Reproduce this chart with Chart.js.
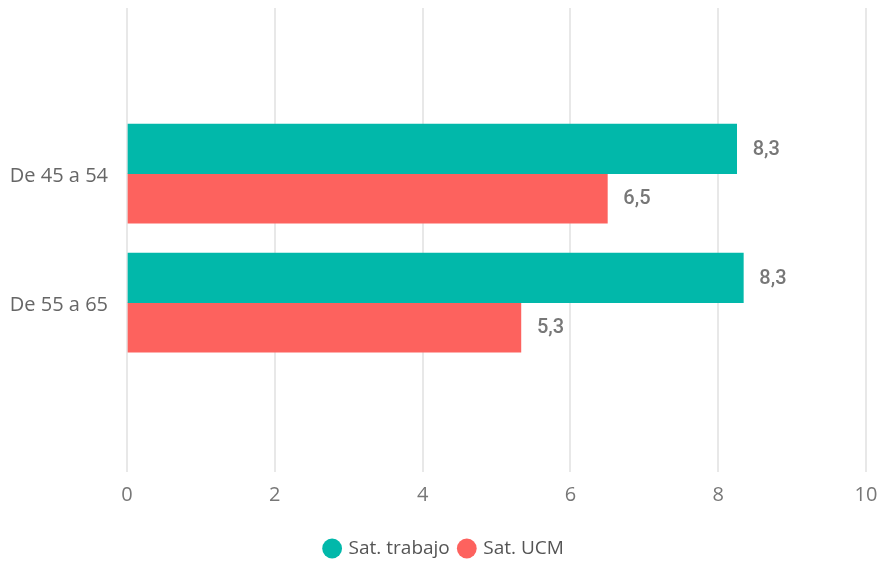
<!DOCTYPE html>
<html>
<head>
<meta charset="utf-8">
<script src="https://cdn.jsdelivr.net/npm/chart.js@4/dist/chart.umd.min.js"></script>
<style>
  html, body { margin: 0; padding: 0; background: #fff; }
  #wrap { width: 881px; height: 561px; }
</style>
</head>
<body>
<div id="wrap"><canvas id="chart" width="881" height="561"></canvas></div>
<script>
const categories = ['De 45 a 54', 'De 55 a 65'];
const seriesNames = ['Sat. trabajo', 'Sat. UCM'];
const satTrabajo = [8.25, 8.34];
const satUCM = [6.5, 5.33];
const xTicks = [0, 2, 4, 6, 8, 10];
const colors = ['#01B8AA', '#FD625E'];

const toPoints = vals => vals.map((v, i) => ({ x: v, y: i }));

// value labels to the right of each bar, Spanish decimal comma
const barLabels = {
  id: 'barLabels',
  afterDatasetsDraw(chart) {
    const ctx = chart.ctx;
    ctx.save();
    ctx.font = '500 20px Roboto';
    ctx.fillStyle = '#777';
    ctx.textAlign = 'left';
    ctx.textBaseline = 'middle';
    chart.data.datasets.forEach((ds, di) => {
      chart.getDatasetMeta(di).data.forEach((bar, i) => {
        const txt = ds.data[i].x.toFixed(1).replace('.', ',');
        ctx.fillText(txt, bar.x + 16, bar.y + 1);
      });
    });
    ctx.restore();
  }
};

new Chart(document.getElementById('chart'), {
  type: 'bar',
  data: {
    datasets: [
      { label: seriesNames[0], data: toPoints(satTrabajo), backgroundColor: colors[0] },
      { label: seriesNames[1], data: toPoints(satUCM), backgroundColor: colors[1] }
    ]
  },
  options: {
    indexAxis: 'y',
    responsive: false,
    animation: false,
    barThickness: 49.5,
    layout: { padding: { top: 8, left: 8, right: 0, bottom: -7 } },
    scales: {
      x: {
        type: 'linear',
        min: xTicks[0],
        max: xTicks[xTicks.length - 1],
        afterBuildTicks: s => { s.ticks = xTicks.map(v => ({ value: v })); },
        afterFit: s => { s.paddingRight = 15; },
        grid: { color: '#e8e8e8', lineWidth: 2, drawTicks: false },
        border: { display: false },
        ticks: { color: '#777', padding: 11, font: { family: 'Open Sans', size: 20 } },
        // empty title only used as spacer above the legend
        title: { display: true, text: '', padding: 0, font: { size: 9 } }
      },
      y: {
        type: 'linear',
        reverse: true,
        offset: false,
        min: -1.283,
        max: 2.314,
        afterBuildTicks: s => { s.ticks = categories.map((c, i) => ({ value: i })); },
        afterFit: s => { s.width = 119; s.paddingTop = 0; s.paddingBottom = 0; },
        grid: { display: false, drawTicks: false, offset: false },
        border: { display: false },
        ticks: {
          color: '#666',
          padding: 19,
          labelOffset: 3,
          font: { family: 'Open Sans', size: 20 },
          callback: v => categories[v] ?? ''
        }
      }
    },
    plugins: {
      tooltip: { enabled: false },
      legend: {
        position: 'bottom',
        labels: {
          usePointStyle: true,
          pointStyle: 'circle',
          boxWidth: 14,
          boxHeight: 14,
          padding: 10,
          color: '#555',
          font: { family: 'Open Sans', size: 19 }
        }
      }
    }
  },
  plugins: [barLabels]
});
</script>
</body>
</html>
